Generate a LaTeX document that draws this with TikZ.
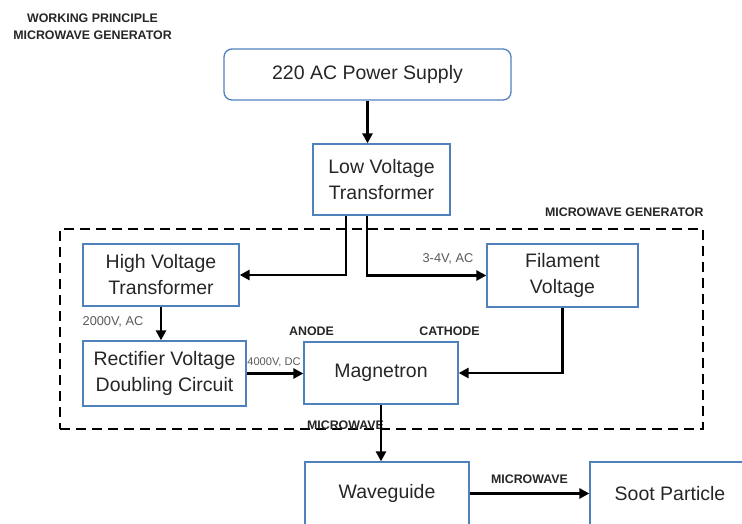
\documentclass[tikz,border=0pt]{standalone}
\usepackage{fontspec}
\setmainfont{Liberation Sans}
\usetikzlibrary{positioning, arrows.meta, calc}
\definecolor{boxblue}{RGB}{79,129,189}
\definecolor{textgray}{RGB}{38,38,38}
\definecolor{labelgray}{RGB}{89,89,89}

\begin{document}
\begin{tikzpicture}[
  x=1pt, y=-1pt,
  block/.style={draw=boxblue, line width=1.3pt, inner sep=0pt, align=center,
                text=textgray, font=\fontsize{19.5}{26}\selectfont},
  tag/.style={inner sep=0pt, text=textgray, font=\bfseries\fontsize{12.4}{17}\selectfont},
  volt/.style={inner sep=0pt, text=labelgray, font=\fontsize{12.8}{14}\selectfont},
  flow/.style={-{Triangle[length=10pt, width=10pt]}, line width=2.8pt},
  frame/.style={draw, dash pattern=on 10pt off 6pt, line width=1.4pt,
                minimum width=643, minimum height=200, inner sep=0pt}
]
  \clip (0,0) rectangle (742,523);
  \node[tag, align=center] (title) at (92.5,26.5) {WORKING PRINCIPLE\\MICROWAVE GENERATOR};

  % supply side
  \node[block, rounded corners=8pt, minimum width=287, minimum height=51] (pwr) at (367.5,74.5) {220 AC Power Supply};
  \node[block, minimum width=137, minimum height=71] (lvt) at (381.5,179.5) {Low Voltage\\Transformer};

  % generator part
  \node[frame] (gen) at (381.5,329) {};
  \node[tag, anchor=east] (genname) at ($(gen.north east)+(0,-16)$) {MICROWAVE GENERATOR};
  \node[block, minimum width=156, minimum height=62] (hvt) at (161,275) {High Voltage\\Transformer};
  \node[block, minimum width=151, minimum height=63] (fil) at (562.5,275.5) {Filament\\Voltage};
  \node[block, minimum width=163, minimum height=65] (rect) at (164.5,373.5) {Rectifier Voltage\\Doubling Circuit};
  \node[block, minimum width=154, minimum height=62] (mag) at (381,373) {Magnetron};

  % output side
  \node[block, minimum width=164, minimum height=63] (wg) at (387,493.5) {Waveguide};
  \node[block, minimum width=160, minimum height=63] (soot) at (670,493.5) {Soot Particle};

  \node[volt] (acl) at (448,259) {3-4V, AC};
  \node[volt] (ach) at (113,322) {2000V, AC};
  \node[volt, font=\fontsize{11.1}{13}\selectfont] (dc) at (274,362) {4000V, DC};
  \node[tag] (anode) at (311.5,331) {ANODE};
  \node[tag] (cathode) at (449.5,331) {CATHODE};
  \node[tag] (mwa) at (345.5,425) {MICROWAVE};
  \node[tag] (mwb) at (529.5,479) {MICROWAVE};

  \draw[flow] (pwr.south) -- (pwr.south |- lvt.north);
  \draw[flow] ($(lvt.south)+(-35.5,0)$) |- (hvt.east);
  \draw[flow] ($(lvt.south)+(-14.5,0)$) |- (fil.west);
  \draw[flow] (hvt.south) -- (hvt.south |- rect.north);
  \draw[flow] (rect.east) -- (rect.east -| mag.west);
  \draw[flow] (fil.south) |- (mag.east);
  \draw[flow] (mag.south) -- (mag.south |- wg.north);
  \draw[flow] (wg.east) -- (wg.east -| soot.west);
\end{tikzpicture}
\end{document}
